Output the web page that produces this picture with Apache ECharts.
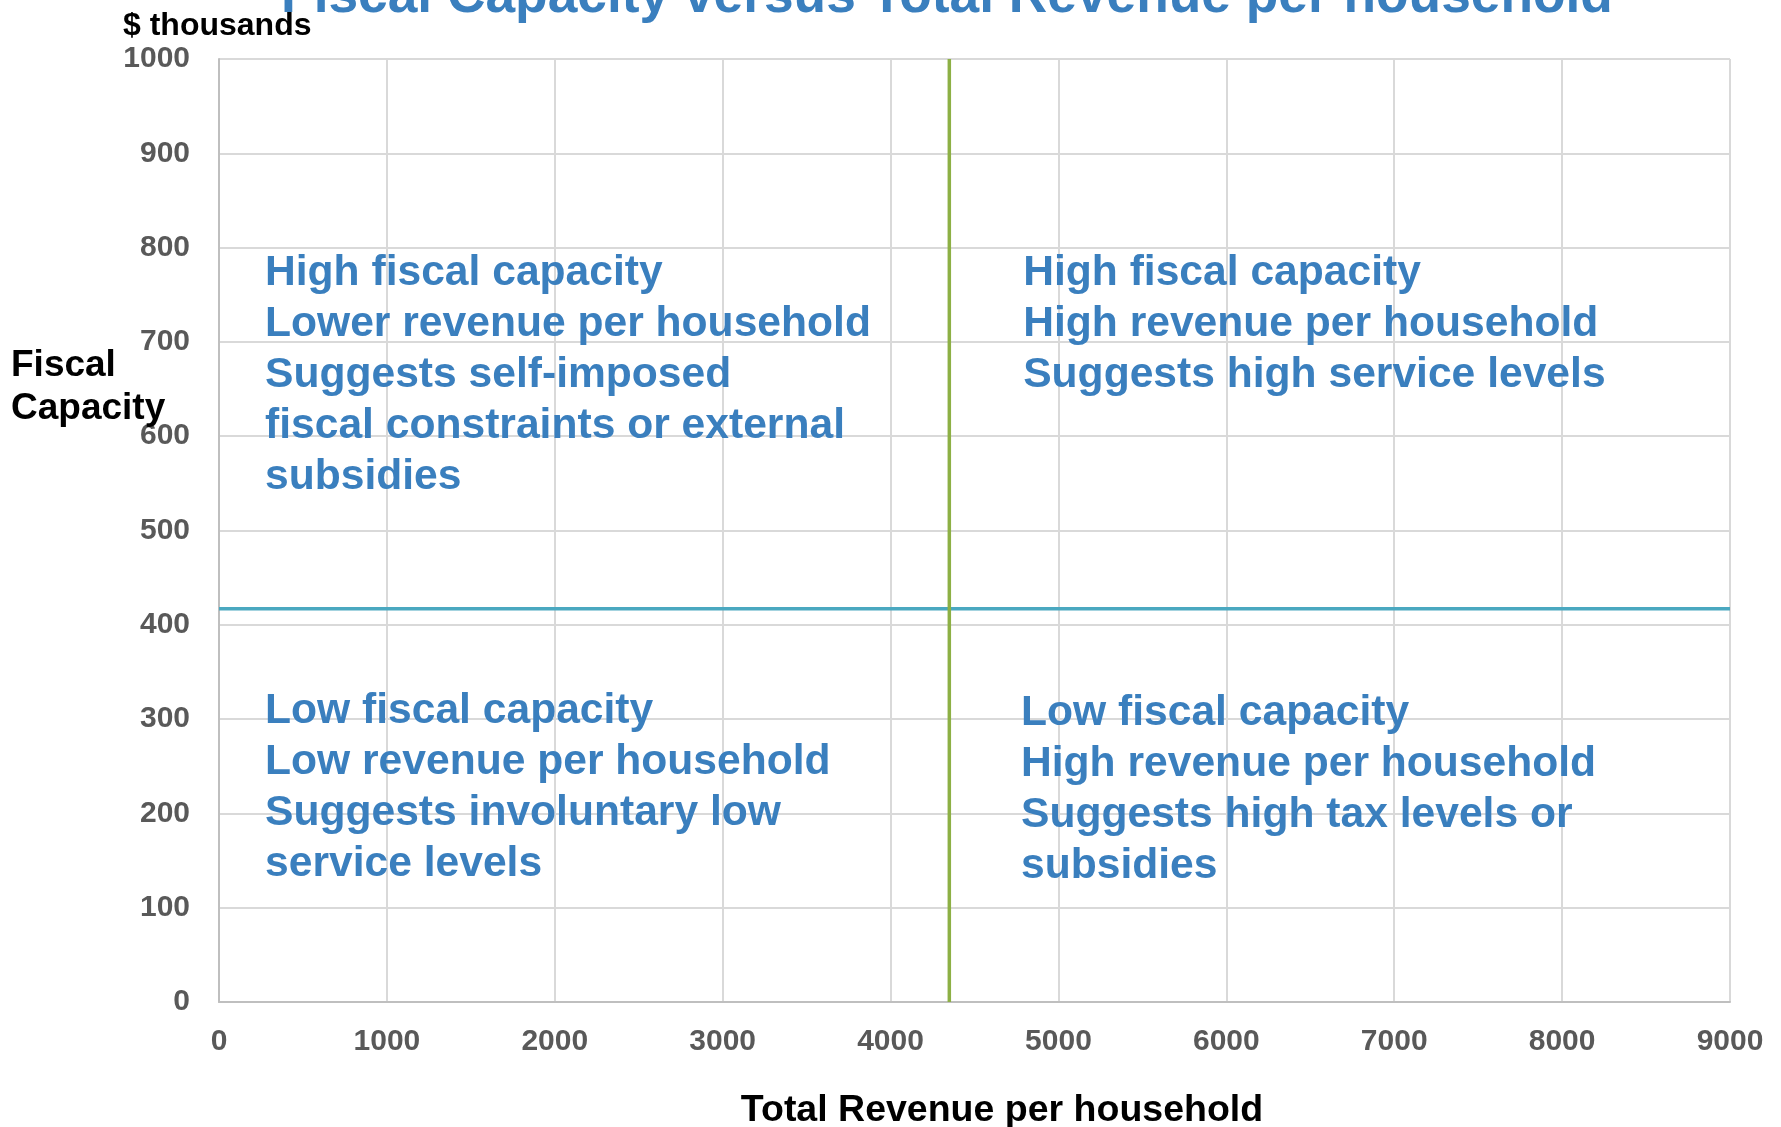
<!DOCTYPE html>
<html>
<head>
<meta charset="utf-8">
<script src="https://cdn.jsdelivr.net/npm/echarts@6/dist/echarts.min.js"></script>
<style>html,body{margin:0;padding:0;background:#fff}#c{width:1781px;height:1127px}</style>
</head>
<body>
<div id="c"></div>
<script>
// ---- data ----
const chartTitle = 'Fiscal Capacity versus Total Revenue per household';
const xAxisName = 'Total Revenue per household';
const yAxisName = 'Fiscal\nCapacity';
const yUnit = '$ thousands';
const xMin = 0, xMax = 9000, xStep = 1000;
const yMin = 0, yMax = 1000, yStep = 100;
const dividerX = 4350;   // vertical divider (total revenue)
const dividerY = 417;    // horizontal divider (fiscal capacity)
const quadrantAnchors = [[274, 800], [4790, 800], [274, 335], [4777, 333]];
const quadrantTexts = [
  ['High fiscal capacity', 'Lower revenue per household', 'Suggests self-imposed', 'fiscal constraints or external', 'subsidies'],
  ['High fiscal capacity', 'High revenue per household', 'Suggests high service levels'],
  ['Low fiscal capacity', 'Low revenue per household', 'Suggests involuntary low', 'service levels'],
  ['Low fiscal capacity', 'High revenue per household', 'Suggests high tax levels or', 'subsidies']
];

// ---- chart ----
const FONT = '"Liberation Sans", Arial, sans-serif';
const BLUE = '#3a7fbe';
const chart = echarts.init(document.getElementById('c'), null, {renderer: 'canvas'});
chart.setOption({
  animation: false,
  backgroundColor: '#ffffff',
  title: [
    {text: chartTitle, left: 942, top: -34, textAlign: 'center',
     textStyle: {fontFamily: FONT, fontWeight: 'bold', fontSize: 53.3, color: BLUE}},
    {text: yUnit, left: 118, top: 5,
     textStyle: {fontFamily: FONT, fontWeight: 'bold', fontSize: 32, color: '#000'}},
    {text: yAxisName, left: 6, top: 339,
     textStyle: {fontFamily: FONT, fontWeight: 'bold', fontSize: 37, lineHeight: 43, color: '#000'}},
    {text: xAxisName, left: 997, top: 1087, textAlign: 'center',
     textStyle: {fontFamily: FONT, fontWeight: 'bold', fontSize: 37.5, color: '#000'}}
  ],
  grid: {left: 219, right: 51, top: 59, bottom: 125, containLabel: false},
  xAxis: {
    type: 'value', min: xMin, max: xMax, interval: xStep,
    axisLine: {show: true, lineStyle: {color: '#bfbfbf', width: 2}},
    axisTick: {show: false},
    splitLine: {show: true, lineStyle: {color: '#d9d9d9', width: 2}},
    axisLabel: {margin: 25, fontFamily: FONT, fontWeight: 'bold', fontSize: 30, color: '#595959',
                formatter: (v) => String(v)}
  },
  yAxis: {
    type: 'value', min: yMin, max: yMax, interval: yStep,
    axisLine: {show: true, lineStyle: {color: '#bfbfbf', width: 2}},
    axisTick: {show: false},
    splitLine: {show: true, lineStyle: {color: '#d9d9d9', width: 2}},
    axisLabel: {margin: 29, fontFamily: FONT, fontWeight: 'bold', fontSize: 30, color: '#595959',
                formatter: (v) => String(v)}
  },
  series: [
    {
      type: 'line', data: [[xMin, dividerY], [xMax, dividerY]], symbol: 'none',
      lineStyle: {color: '#4aa8c0', width: 3.5}, z: 3, silent: true
    },
    {
      type: 'line', data: [[dividerX, yMin], [dividerX, yMax]], symbol: 'none',
      lineStyle: {color: '#8db045', width: 3.5}, z: 4, silent: true
    },
    {
      type: 'scatter', symbolSize: 0, z: 5, silent: true,
      itemStyle: {opacity: 1},
      data: quadrantAnchors.map((p, i) => ({value: p, lines: quadrantTexts[i]})),
      label: {
        show: true, position: [0, 0], align: 'left', verticalAlign: 'top',
        fontFamily: FONT, fontWeight: 'bold', fontSize: 42.6, lineHeight: 51, color: BLUE,
        opacity: 1,
        formatter: (p) => p.data.lines.join('\n')
      }
    }
  ]
});
</script>
</body>
</html>
